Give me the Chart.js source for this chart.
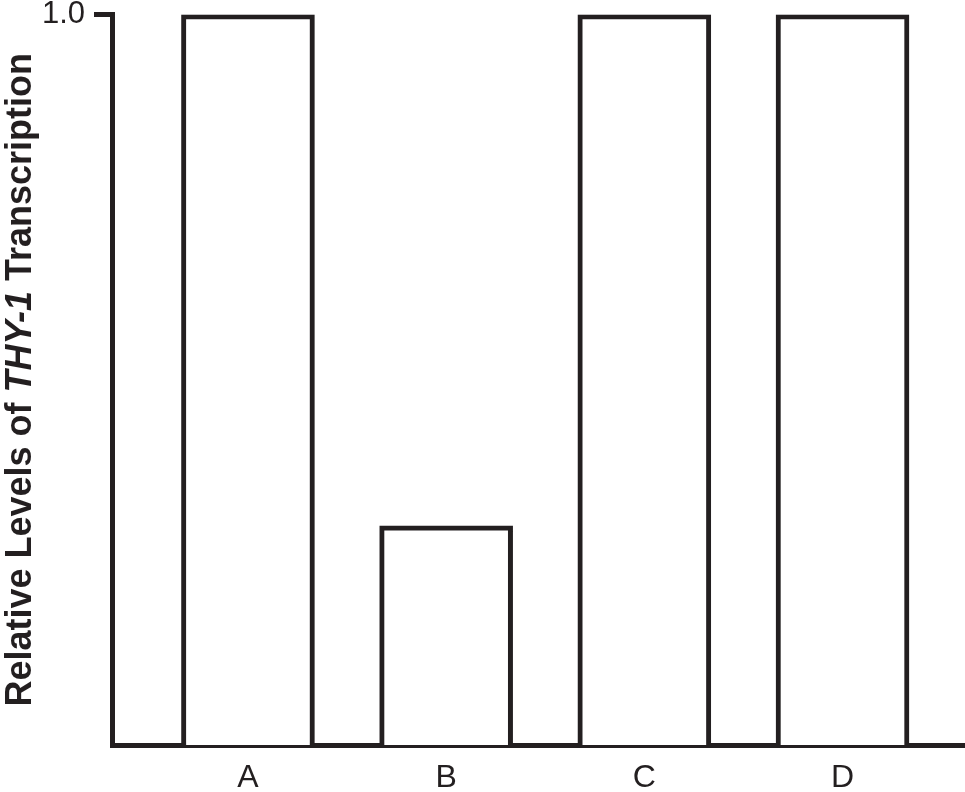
<!DOCTYPE html>
<html>
<head>
<meta charset="utf-8">
<script src="https://cdn.jsdelivr.net/npm/chart.js@4"></script>
<style>
  html, body { margin: 0; padding: 0; background: #fff; }
  #wrap { width: 965px; height: 792px; }
</style>
</head>
<body>
<div id="wrap"><canvas id="c" width="965" height="792"></canvas></div>
<script>
// ---- data ----
const categories = ['A', 'B', 'C', 'D'];
const relativeLevels = [1.0, 0.3, 1.0, 1.0];
const yTickValues = [1.0];
const yTickLabels = ['1.0'];
const titleParts = [
  { text: 'Relative Levels of ', italic: false },
  { text: 'THY-1', italic: true },
  { text: ' Transcription', italic: false }
];

const INK = '#231f20';
const FONT = '"Liberation Sans", Arial, Helvetica, sans-serif';

const yTitlePlugin = {
  id: 'yTitle',
  afterDraw(chart) {
    const ctx = chart.ctx;
    const ca = chart.chartArea;
    const size = 36;
    ctx.save();
    ctx.fillStyle = INK;
    ctx.textBaseline = 'alphabetic';
    ctx.textAlign = 'left';
    let total = 0;
    const widths = titleParts.map(p => {
      ctx.font = (p.italic ? 'italic ' : '') + 'bold ' + size + 'px ' + FONT;
      const w = ctx.measureText(p.text).width;
      total += w;
      return w;
    });
    ctx.translate(31, (ca.top + ca.bottom) / 2);
    ctx.rotate(-Math.PI / 2);
    let x = -total / 2;
    titleParts.forEach((p, i) => {
      ctx.font = (p.italic ? 'italic ' : '') + 'bold ' + size + 'px ' + FONT;
      ctx.fillText(p.text, x, 0);
      x += widths[i];
    });
    ctx.restore();
  }
};

new Chart(document.getElementById('c'), {
  type: 'bar',
  data: {
    datasets: [{
      data: categories.map((c, i) => ({ x: i, y: relativeLevels[i] })),
      backgroundColor: '#ffffff',
      borderColor: INK,
      borderWidth: 5,
      borderSkipped: 'start',
      barThickness: 133
    }]
  },
  options: {
    responsive: false,
    animation: false,
    events: [],
    layout: { padding: { top: 0, right: 1, left: 0, bottom: 0 } },
    plugins: { legend: { display: false }, tooltip: { enabled: false }, title: { display: false } },
    scales: {
      x: {
        type: 'linear',
        offset: false,
        min: -0.686,
        max: 3.613,
        afterBuildTicks(scale) { scale.ticks = categories.map((c, i) => ({ value: i })); },
        afterFit(scale) { scale.height = 47; },
        ticks: {
          callback: (v) => categories[v] ?? '',
          color: INK,
          font: { family: FONT, size: 32 },
          padding: 14,
          maxRotation: 0,
          autoSkip: false
        },
        grid: { display: false, drawTicks: false },
        border: { display: true, color: INK, width: 5 }
      },
      y: {
        min: 0,
        max: 1,
        afterBuildTicks(scale) { scale.ticks = yTickValues.map(v => ({ value: v })); },
        afterFit(scale) { scale.width = 112; },
        ticks: {
          callback: (v) => { const i = yTickValues.indexOf(v); return i >= 0 ? yTickLabels[i] : ''; },
          color: INK,
          font: { family: FONT, size: 31, lineHeight: 0.36 },
          padding: 9
        },
        grid: { drawOnChartArea: false, drawTicks: true, tickLength: 18, lineWidth: 5, color: INK },
        border: { display: true, color: INK, width: 5 }
      }
    }
  },
  plugins: [yTitlePlugin]
});
</script>
</body>
</html>
